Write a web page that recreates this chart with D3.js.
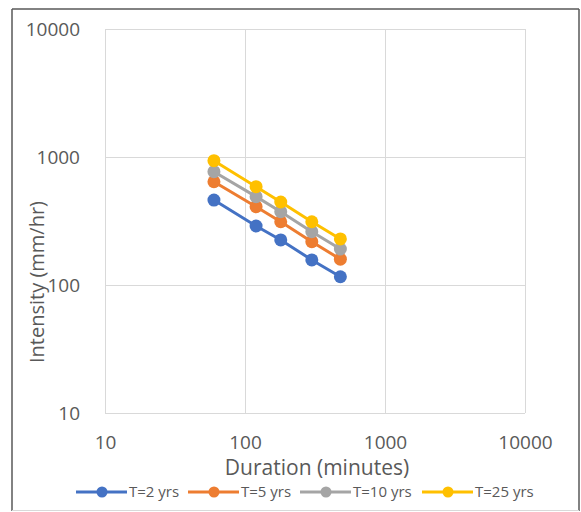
<!DOCTYPE html>
<html>
<head>
<meta charset="utf-8">
<script src="https://cdn.jsdelivr.net/npm/d3@7"></script>
<style>
  body { margin: 0; background: #fff; }
  text { font-family: "Open Sans", "Liberation Sans", sans-serif; fill: #595959; }
</style>
</head>
<body>
<svg id="chart" width="581" height="512"></svg>
<script>
// durations (minutes) and intensities (mm/hr) per return period
const durations = [60, 120, 180, 300, 480]
const seriesNames = ['T=2 yrs', 'T=5 yrs', 'T=10 yrs', 'T=25 yrs']
const t2 = [461, 289, 225, 157, 116]
const t5 = [641, 409, 312, 218, 159]
const t10 = [768, 490, 374, 261, 191]
const t25 = [936, 586, 445, 312, 229]
const colors = ['#4472C4', '#ED7D31', '#A5A5A5', '#FFC000']
const tickValues = [10, 100, 1000, 10000]

const svg = d3.select('#chart')

// outer frame
svg.append('line').attr('x1', 12).attr('y1', 9).attr('x2', 12).attr('y2', 511).attr('stroke', '#595959').attr('stroke-width', 1.5)
svg.append('line').attr('x1', 12).attr('y1', 9).attr('x2', 579).attr('y2', 9).attr('stroke', '#595959').attr('stroke-width', 1.5)
svg.append('line').attr('x1', 579).attr('y1', 9).attr('x2', 579).attr('y2', 511).attr('stroke', '#595959').attr('stroke-width', 1.5)
svg.append('line').attr('x1', 12).attr('y1', 510.5).attr('x2', 579).attr('y2', 510.5).attr('stroke', '#d9d9d9').attr('stroke-width', 1)

const plot = { left: 105, right: 525, top: 29, bottom: 413 }

const x = d3.scaleLog().domain([10, 10000]).range([plot.left, plot.right])
const y = d3.scaleLog().domain([10, 10000]).range([plot.bottom, plot.top])

// gridlines
const grid = svg.append('g')
grid.selectAll('.vgrid').data(tickValues).enter().append('line')
  .attr('x1', d => Math.round(x(d)) + 0.5).attr('x2', d => Math.round(x(d)) + 0.5)
  .attr('y1', plot.top).attr('y2', plot.bottom)
  .attr('stroke', '#d9d9d9').attr('stroke-width', 1)
grid.selectAll('.hgrid').data(tickValues).enter().append('line')
  .attr('y1', d => Math.round(y(d)) + 0.5).attr('y2', d => Math.round(y(d)) + 0.5)
  .attr('x1', plot.left).attr('x2', plot.right)
  .attr('stroke', '#d9d9d9').attr('stroke-width', 1)

// axes (labels only)
const xAxis = svg.append('g')
  .attr('transform', `translate(0,${plot.bottom + 19})`)
  .call(d3.axisBottom(x).tickValues(tickValues).tickFormat(d3.format('d')).tickSize(0))
xAxis.select('.domain').remove()
xAxis.selectAll('text').style('font-size', '19px').attr('fill', '#595959')
  .style('font-family', '"Open Sans", "Liberation Sans", sans-serif')

const yAxis = svg.append('g')
  .attr('transform', `translate(${plot.left - 22},0)`)
  .call(d3.axisLeft(y).tickValues(tickValues).tickFormat(d3.format('d')).tickSize(0))
yAxis.select('.domain').remove()
yAxis.selectAll('text').style('font-size', '19px').attr('fill', '#595959')
  .style('font-family', '"Open Sans", "Liberation Sans", sans-serif')

// axis titles
svg.append('text').attr('x', 317).attr('y', 475)
  .attr('text-anchor', 'middle').style('font-size', '21px').text('Duration (minutes)')
svg.append('text').attr('transform', 'translate(44,282) rotate(-90)')
  .attr('text-anchor', 'middle').style('font-size', '20px').text('Intensity (mm/hr)')

// series
const series = [t2, t5, t10, t25].map((vals, i) => ({
  name: seriesNames[i],
  color: colors[i],
  points: durations.map((d, j) => ({ d: d, v: vals[j] }))
}))

const line = d3.line().x(p => x(p.d)).y(p => y(p.v))

const groups = svg.selectAll('.series').data(series).enter().append('g').attr('class', 'series')
groups.append('path')
  .attr('d', s => line(s.points))
  .attr('fill', 'none')
  .attr('stroke', s => s.color)
  .attr('stroke-width', 3)
groups.selectAll('circle').data(s => s.points.map(p => ({ p: p, c: s.color }))).enter().append('circle')
  .attr('cx', d => x(d.p.d)).attr('cy', d => y(d.p.v))
  .attr('r', 6.5).attr('fill', d => d.c)

// legend
const legendX = [76, 188, 300, 422]
const legend = svg.selectAll('.legend').data(series).enter().append('g')
  .attr('transform', (s, i) => `translate(${legendX[i]},492)`)
legend.append('line').attr('x1', 0).attr('x2', 51).attr('stroke', s => s.color).attr('stroke-width', 3)
legend.append('circle').attr('cx', 26).attr('r', 5.5).attr('fill', s => s.color)
legend.append('text').attr('x', 53).attr('dy', '0.35em').style('font-size', '15px').text(s => s.name)
</script>
</body>
</html>
